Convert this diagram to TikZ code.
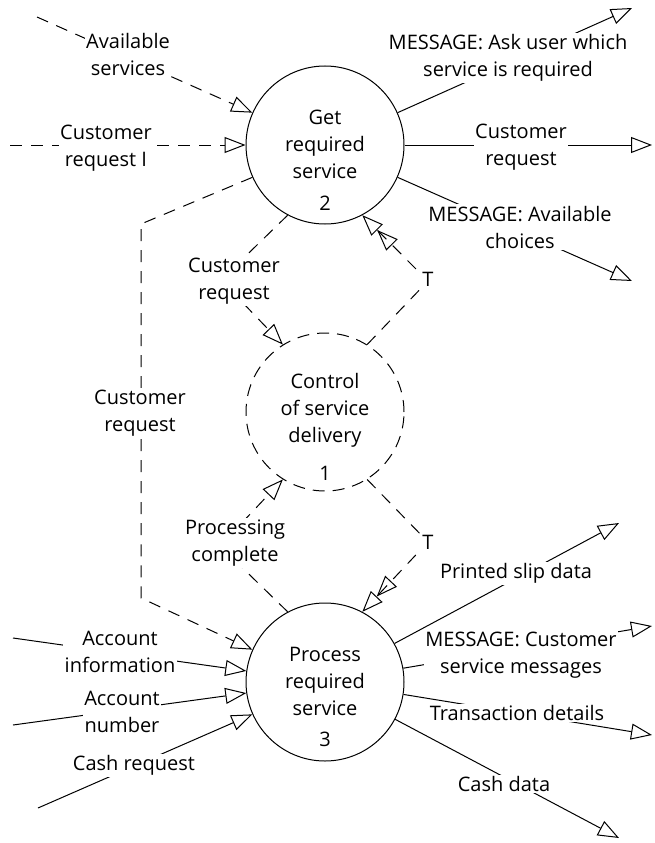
\documentclass[tikz,border=0pt]{standalone}
\usepackage{fontspec}
\setmainfont{Open Sans}
\usetikzlibrary{arrows.meta}
\begin{document}
\begin{tikzpicture}[x=1pt,y=-1pt,
  every node/.style={font=\fontsize{20}{27}\selectfont},
  proc/.style={circle, draw, line width=1pt, minimum size=158pt, inner sep=0pt},
  ctl/.style={proc, dash pattern=on 12pt off 8pt},
  lbl/.style={fill=white, align=center, inner sep=1.5pt},
  ctext/.style={align=center, inner sep=0pt},
  num/.style={anchor=base, inner sep=0pt},
  flow/.style={line width=1pt, -{Triangle[open,length=21pt,width=16pt]}},
  dflow/.style={flow, dash pattern=on 12pt off 9pt},
  trig/.style={line width=1pt, dash pattern=on 12pt off 9pt,
    -{Triangle[open,length=21pt,width=16pt]Triangle[open,length=21pt,width=16pt]}},
]
\useasboundingbox (0,0) rectangle (654,843);

% processes
\node[proc] (c2) at (325,145) {};
\node[ctl]  (c1) at (325,412) {};
\node[proc] (c3) at (325,682) {};
\node[ctext] (t2) at (325,144) {Get\\required\\service};
\node[num] (n2) at (325,210) {2};
\node[ctext] (t1) at (325,410) {Control\\of service\\delivery};
\node[num] (n1) at (325,480) {1};
\node[ctext] (t3) at (325,681) {Process\\required\\service};
\node[num] (n3) at (325,746) {3};

% free ends and corners
\coordinate (a1) at (37,17);
\coordinate (a2) at (10,145);
\coordinate (k1) at (141,224);
\coordinate (k2) at (141,598);
\coordinate (k3) at (221,280);
\coordinate (k4) at (428,281);
\coordinate (k5) at (220,546);
\coordinate (k6) at (428,542);
\coordinate (e1) at (632,8);
\coordinate (e2) at (652,145);
\coordinate (e3) at (632,281);
\coordinate (s4) at (13,638);
\coordinate (s5) at (13,725);
\coordinate (s6) at (38,808);
\coordinate (e7) at (619,523);
\coordinate (e8) at (652,626);
\coordinate (e9) at (652,735);
\coordinate (e10) at (619,838);

% connectors
\draw[dflow] (a1) -- (c2.156);
\draw[dflow] (a2) -- (c2.180);
\draw[dflow] (c2.204) -- (k1) -- (k2) -- (c3.156);
\draw[dflow] (c2.242) -- (k3) -- (c1.122);
\draw[trig] (c1.58) -- (k4) -- (c2.298);
\draw[dflow] (c3.118) -- (k5) -- (c1.238);
\draw[trig] (c1.302) -- (k6) -- (c3.62);
\draw[flow] (c2.24) -- (e1);
\draw[flow] (c2.0) -- (e2);
\draw[flow] (c2.-24) -- (e3);
\draw[flow] (s4) -- (c3.172);
\draw[flow] (s5) -- (c3.188);
\draw[flow] (s6) -- (c3.204);
\draw[flow] (c3.29) -- (e7);
\draw[flow] (c3.10) -- (e8);
\draw[flow] (c3.-9) -- (e9);
\draw[flow] (c3.-28) -- (e10);

% labels
\node[lbl] (l1) at (128,54) {Available\\services};
\node[lbl] (l2) at (106,148) {Customer\\request I};
\node[lbl] (l3) at (140,413) {Customer\\request};
\node[lbl] (l4) at (234,281) {Customer\\request};
\node[lbl] (l5) at (428,279) {T};
\node[lbl] (l6) at (235,543) {Processing\\complete};
\node[lbl] (l7) at (428,542) {T};
\node[lbl] (l8) at (508,58) {MESSAGE: Ask user which\\service is required};
\node[lbl] (l9) at (521,147) {Customer\\request};
\node[lbl] (l10) at (520,227) {MESSAGE: Available\\choices};
\node[lbl] (l11) at (120,652) {Account\\information};
\node[lbl] (l12) at (122,712) {Account\\number};
\node[lbl] (l13) at (134,765) {Cash request};
\node[lbl] (l14) at (516,573) {Printed slip data};
\node[lbl] (l15) at (521,655) {MESSAGE: Customer\\service messages};
\node[lbl] (l16) at (517,713) {Transaction details};
\node[lbl] (l17) at (504,784) {Cash data};
\end{tikzpicture}
\end{document}
